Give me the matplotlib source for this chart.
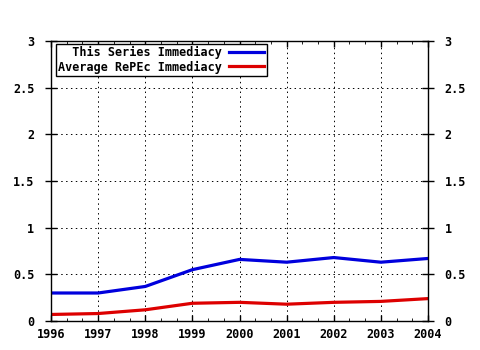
import matplotlib
matplotlib.use("Agg")
import matplotlib.pyplot as plt
from matplotlib.ticker import MultipleLocator

years = [1996, 1997, 1998, 1999, 2000, 2001, 2002, 2003, 2004]
series_immediacy = [0.30, 0.30, 0.37, 0.55, 0.66, 0.63, 0.68, 0.63, 0.67]
repec_immediacy = [0.07, 0.08, 0.12, 0.19, 0.20, 0.18, 0.20, 0.21, 0.24]
y_ticks = [0, 0.5, 1, 1.5, 2, 2.5, 3]
y_labels = ["0", "0.5", "1", "1.5", "2", "2.5", "3"]

plt.rcParams['font.family'] = ['DejaVu Sans Mono']
plt.rcParams['font.weight'] = 'bold'

fig = plt.figure(figsize=(4.8, 3.5), dpi=100)
ax = fig.add_axes([51/480, 29/350, 377/480, 280/350])

ax.plot(years, series_immediacy, color='#0000dd', lw=2.3, label='  This Series Immediacy')
ax.plot(years, repec_immediacy, color='#dd0000', lw=2.3, label='Average RePEc Immediacy')

ax.set_xlim(1996, 2004)
ax.set_ylim(0, 3)
ax.set_xticks(years)
ax.set_xticklabels([str(y) for y in years])
ax.set_yticks(y_ticks)
ax.set_yticklabels(y_labels)
ax.xaxis.set_minor_locator(MultipleLocator(1/3))
ax.grid(True, which='major', color='black', linestyle=(0, (1.5, 3.5)), lw=0.7)
ax.tick_params(axis='both', which='major', labelsize=8.5, length=4, width=1, color='black')
ax.tick_params(axis='y', which='major', direction='inout', length=8, right=True, labelright=True, pad=8)
ax.tick_params(axis='x', which='major', direction='in', top=True, pad=5)
ax.tick_params(axis='x', which='minor', direction='in', top=True, length=2.5)
for s in ax.spines.values():
    s.set_linewidth(1)
    s.set_color('black')

leg = ax.legend(loc='upper left', markerfirst=False, fancybox=False, framealpha=1,
                edgecolor='black', fontsize=8.5, handlelength=3.0, borderpad=0.2,
                labelspacing=0.1, handletextpad=0.6, bbox_to_anchor=(0.012, 0.99),
                borderaxespad=0)
leg.get_frame().set_linewidth(1)

fig.savefig('out.png', dpi=100)
